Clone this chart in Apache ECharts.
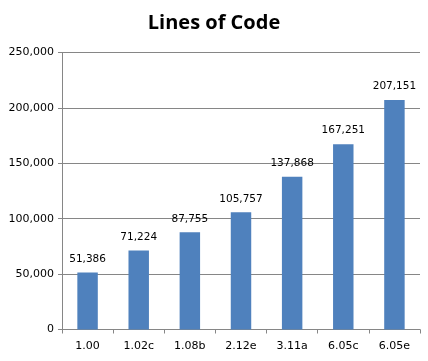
<!DOCTYPE html>
<html><head><meta charset="utf-8">
<script src="https://cdn.jsdelivr.net/npm/echarts@6/dist/echarts.min.js"></script>
<style>html,body{margin:0;padding:0;background:#fff}#c{width:428px;height:361px}</style>
</head><body><div id="c"></div>
<script>
var categories = ['1.00','1.02c','1.08b','2.12e','3.11a','6.05c','6.05e'];
var linesOfCode = [51386, 71224, 87755, 105757, 137868, 167251, 207151];
var yTicks = [0, 50000, 100000, 150000, 200000, 250000];

var chart = echarts.init(document.getElementById('c'), null, {renderer:'canvas'});
var fmt = function(v){ return v.toLocaleString('en-US'); };
chart.setOption({
  animation:false,
  title:{text:'Lines of Code', left:'center', top:8,
    textStyle:{fontFamily:'Open Sans', fontWeight:'bold', fontSize:20, color:'#000'}},
  grid:{left:62, right:8, top:52.5, bottom:31.5, containLabel:false},
  xAxis:{type:'category', data:categories,
    axisLine:{lineStyle:{color:'#868686'}},
    axisTick:{show:true, length:4, lineStyle:{color:'#868686'}},
    axisLabel:{color:'#000', fontFamily:'DejaVu Sans', fontSize:11, margin:11}},
  yAxis:{type:'value', min:yTicks[0], max:yTicks[yTicks.length-1], interval:50000,
    axisLine:{show:true, lineStyle:{color:'#868686'}},
    axisTick:{show:true, length:4, lineStyle:{color:'#868686'}},
    splitLine:{lineStyle:{color:'#868686'}},
    axisLabel:{color:'#000', fontFamily:'DejaVu Sans', fontSize:11, margin:8, formatter:fmt}},
  series:[{type:'bar', data:linesOfCode, barWidth:'40%',
    itemStyle:{color:'#4f81bd'},
    label:{show:true, position:'top', distance:8, color:'#000', fontFamily:'DejaVu Sans', fontSize:10.5,
      formatter:function(p){return fmt(p.value);}}}]
});
</script></body></html>
